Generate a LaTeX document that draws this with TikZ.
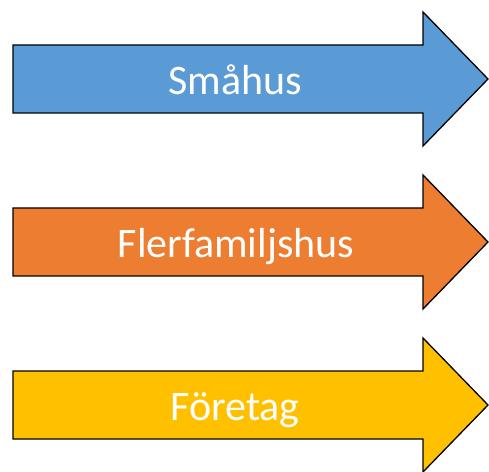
\documentclass[tikz,border=0pt]{standalone}
\usepackage{fontspec}
\setmainfont{Carlito}
\definecolor{smablue}{HTML}{5B9BD5}
\definecolor{flerorange}{HTML}{ED7D31}
\definecolor{foregold}{HTML}{FFC000}
\tikzset{
    arrowshape/.style={draw=black, line width=1.3pt, line join=miter},
    arrowlabel/.style={anchor=base, text=white, font=\fontsize{42}{50}\selectfont, inner sep=0pt}
}

\begin{document}
\begin{tikzpicture}[x=1pt,y=1pt]
    \useasboundingbox (0,0) rectangle (489,471);
    % arrows
    \foreach \yc/\col in {392/smablue, 229/flerorange, 66/foregold}
        \filldraw[arrowshape, fill=\col] (13,\yc-34) -- (13,\yc+34) -- (423,\yc+34)
            -- (423,\yc+67) -- (488,\yc) -- (423,\yc-67) -- (423,\yc-34) -- cycle;
    % labels
    \node[arrowlabel] (smahus) at (235, 392-15.5) {Småhus};
    \node[arrowlabel] (flerfamiljshus) at (236, 229-15.5) {Flerfamiljshus};
    \node[arrowlabel] (foretag) at (235, 66-15.5) {Företag};
\end{tikzpicture}
\end{document}
